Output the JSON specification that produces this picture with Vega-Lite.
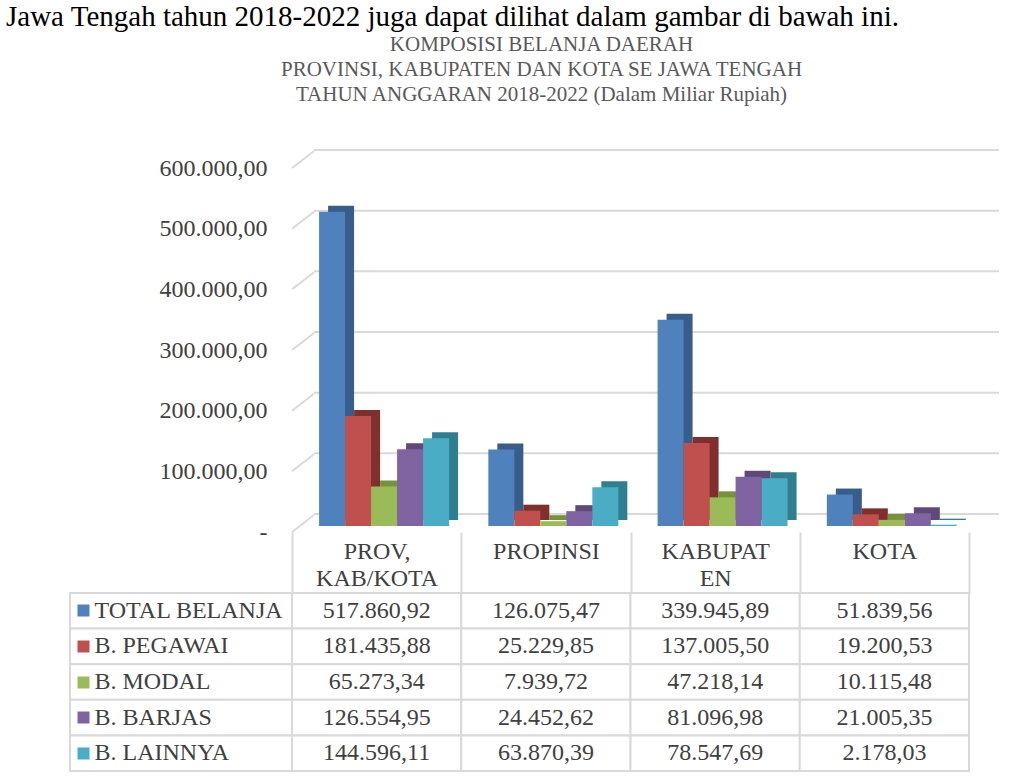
{
  "$schema": "https://vega.github.io/schema/vega-lite/v6.json",
  "padding": {"left": 6, "top": 3, "right": 0, "bottom": 0},
  "background": "white",
  "config": {
    "locale": {"number": {"decimal": ",", "thousands": ".", "grouping": [3], "currency": ["", ""]}},
    "view": {"stroke": null},
    "font": "Liberation Serif",
    "axis": {"labelFont": "Liberation Serif", "titleFont": "Liberation Serif"},
    "title": {"font": "Liberation Serif", "subtitleFont": "Liberation Serif"},
    "text": {"font": "Liberation Serif"}
  },
  "title": {
    "text": "Jawa Tengah tahun 2018-2022 juga dapat dilihat dalam gambar di bawah ini.",
    "anchor": "start", "dx": -63, "fontSize": 29, "fontWeight": "normal", "color": "#000000", "offset": 2
  },
  "datasets": {
    "belanja": [
      {"cat": "PROV, KAB/KOTA", "series": "TOTAL BELANJA", "value": 517860.92},
      {"cat": "PROV, KAB/KOTA", "series": "B. PEGAWAI", "value": 181435.88},
      {"cat": "PROV, KAB/KOTA", "series": "B. MODAL", "value": 65273.34},
      {"cat": "PROV, KAB/KOTA", "series": "B. BARJAS", "value": 126554.95},
      {"cat": "PROV, KAB/KOTA", "series": "B. LAINNYA", "value": 144596.11},
      {"cat": "PROPINSI", "series": "TOTAL BELANJA", "value": 126075.47},
      {"cat": "PROPINSI", "series": "B. PEGAWAI", "value": 25229.85},
      {"cat": "PROPINSI", "series": "B. MODAL", "value": 7939.72},
      {"cat": "PROPINSI", "series": "B. BARJAS", "value": 24452.62},
      {"cat": "PROPINSI", "series": "B. LAINNYA", "value": 63870.39},
      {"cat": "KABUPATEN", "series": "TOTAL BELANJA", "value": 339945.89},
      {"cat": "KABUPATEN", "series": "B. PEGAWAI", "value": 137005.50},
      {"cat": "KABUPATEN", "series": "B. MODAL", "value": 47218.14},
      {"cat": "KABUPATEN", "series": "B. BARJAS", "value": 81096.98},
      {"cat": "KABUPATEN", "series": "B. LAINNYA", "value": 78547.69},
      {"cat": "KOTA", "series": "TOTAL BELANJA", "value": 51839.56},
      {"cat": "KOTA", "series": "B. PEGAWAI", "value": 19200.53},
      {"cat": "KOTA", "series": "B. MODAL", "value": 10115.48},
      {"cat": "KOTA", "series": "B. BARJAS", "value": 21005.35},
      {"cat": "KOTA", "series": "B. LAINNYA", "value": 2178.03}
    ],
    "ticks": [{"v": 0}, {"v": 100000}, {"v": 200000}, {"v": 300000}, {"v": 400000}, {"v": 500000}, {"v": 600000}]
  },
  "columns": 2,
  "bounds": "flush",
  "spacing": {"row": 67, "column": 0},
  "resolve": {"scale": {"x": "independent", "y": "independent"}},
  "concat": [
    {
      "width": 222, "height": 364,
      "data": {"values": [{"a": 1}]},
      "mark": {"type": "point", "opacity": 0},
      "encoding": {}
    },
    {
      "width": 677, "height": 364,
      "title": {
        "text": ["KOMPOSISI BELANJA DAERAH", "PROVINSI, KABUPATEN DAN KOTA SE JAWA TENGAH", "TAHUN ANGGARAN 2018-2022 (Dalam Miliar Rupiah)"],
        "frame": "group", "anchor": "middle", "dx": -89, "fontSize": 21, "fontWeight": "normal",
        "color": "#595959", "lineHeight": 25, "offset": 44
      },
      "resolve": {"scale": {"x": "independent", "color": "independent"}},
      "layer": [
        {
          "data": {"name": "ticks"},
          "mark": {"type": "rule", "color": "#d9d9d9", "strokeWidth": 2, "xOffset": 22, "x2Offset": 30, "yOffset": -12},
          "encoding": {
            "x": {"datum": "PROV, KAB/KOTA", "type": "nominal", "bandPosition": 0, "scale": {"domain": ["PROV, KAB/KOTA", "PROPINSI", "KABUPATEN", "KOTA"], "paddingInner": 0, "paddingOuter": 0, "range": [0, 677]}, "axis": null},
            "x2": {"datum": "KOTA", "bandPosition": 1},
            "y": {
              "field": "v", "type": "quantitative",
              "scale": {"domain": [0, 600000], "nice": false, "zero": true},
              "axis": {
                "values": [0, 100000, 200000, 300000, 400000, 500000, 600000],
                "format": ",.2f",
                "labelExpr": "datum.value == 0 ? '-' : datum.label",
                "labelFontSize": 24, "labelColor": "#404040", "labelPadding": 25, "labelOffset": 6,
                "ticks": false, "domain": false, "grid": false, "title": null
              }
            }
          }
        },
        {
          "data": {"name": "ticks"},
          "mark": {"type": "rule", "color": "#d9d9d9", "strokeWidth": 2, "yOffset": 6, "y2Offset": -11, "x2Offset": 22},
          "encoding": {
            "x": {"datum": "PROV, KAB/KOTA", "type": "nominal", "bandPosition": 0, "scale": {"domain": ["PROV, KAB/KOTA", "PROPINSI", "KABUPATEN", "KOTA"], "paddingInner": 0, "paddingOuter": 0, "range": [0, 677]}, "axis": null},
            "x2": {"datum": "PROV, KAB/KOTA", "bandPosition": 0},
            "y": {"field": "v", "type": "quantitative"},
            "y2": {"field": "v"}
          }
        },
        {
          "data": {"name": "belanja"},
          "mark": {"type": "bar", "yOffset": -6, "y2Offset": -6},
          "encoding": {
            "x": {"field": "cat", "type": "nominal", "scale": {"domain": ["PROV, KAB/KOTA", "PROPINSI", "KABUPATEN", "KOTA"], "paddingInner": 0, "paddingOuter": 0, "range": [9, 686]}, "axis": null},
            "xOffset": {"field": "series", "type": "nominal", "scale": {"domain": ["TOTAL BELANJA", "B. PEGAWAI", "B. MODAL", "B. BARJAS", "B. LAINNYA"], "paddingInner": 0, "paddingOuter": 0.755, "align": 0.69, "range": [0, 169.25]}},
            "y": {"field": "value", "type": "quantitative"},
            "color": {"field": "series", "type": "nominal", "scale": {"domain": ["TOTAL BELANJA", "B. PEGAWAI", "B. MODAL", "B. BARJAS", "B. LAINNYA"], "range": ["#385D8A", "#7F302E", "#76923C", "#5F497A", "#2F7F91"]}, "legend": null}
          }
        },
        {
          "data": {"name": "belanja"},
          "mark": {"type": "bar"},
          "encoding": {
            "x": {"field": "cat", "type": "nominal", "scale": {"domain": ["PROV, KAB/KOTA", "PROPINSI", "KABUPATEN", "KOTA"], "paddingInner": 0, "paddingOuter": 0, "range": [0, 677]}, "axis": null},
            "xOffset": {"field": "series", "type": "nominal"},
            "y": {"field": "value", "type": "quantitative"},
            "color": {"field": "series", "type": "nominal", "scale": {"domain": ["TOTAL BELANJA", "B. PEGAWAI", "B. MODAL", "B. BARJAS", "B. LAINNYA"], "range": ["#4F81BD", "#C0504D", "#9BBB59", "#8064A2", "#4BACC6"]}, "legend": null}
          }
        }
      ]
    },
    {
      "width": 222, "height": 178,
      "data": {"name": "belanja"},
      "transform": [{"filter": "datum.cat == 'KOTA'"}],
      "mark": {"type": "rect", "fill": "white", "stroke": "#d9d9d9", "strokeWidth": 2},
      "encoding": {
        "y": {
          "field": "series", "type": "nominal",
          "scale": {"domain": ["TOTAL BELANJA", "B. PEGAWAI", "B. MODAL", "B. BARJAS", "B. LAINNYA"], "paddingInner": 0, "paddingOuter": 0},
          "axis": {
            "orient": "left", "offset": -19, "domain": false, "grid": false,
            "ticks": true, "tickSize": 12, "tickWidth": 12,
            "tickColor": {"condition": [
              {"test": "datum.value === 'TOTAL BELANJA'", "value": "#4F81BD"},
              {"test": "datum.value === 'B. PEGAWAI'", "value": "#C0504D"},
              {"test": "datum.value === 'B. MODAL'", "value": "#9BBB59"},
              {"test": "datum.value === 'B. BARJAS'", "value": "#8064A2"}
            ], "value": "#4BACC6"},
            "labelAlign": "left", "labelPadding": -17, "labelLimit": 0, "labelFontSize": 24, "labelColor": "#404040", "title": null
          }
        }
      }
    },
    {
      "width": 677, "height": 178,
      "data": {"name": "belanja"},
      "encoding": {
        "x": {
          "field": "cat", "type": "nominal",
          "scale": {"domain": ["PROV, KAB/KOTA", "PROPINSI", "KABUPATEN", "KOTA"], "paddingInner": 0, "paddingOuter": 0},
          "axis": {
            "orient": "top", "tickBand": "extent", "tickSize": 61, "tickWidth": 2, "tickColor": "#d9d9d9",
            "domain": false, "grid": false,
            "labelExpr": "datum.value == 'PROV, KAB/KOTA' ? ['PROV,', 'KAB/KOTA'] : (datum.value == 'KABUPATEN' ? ['KABUPAT', 'EN'] : datum.value)",
            "labelBaseline": "top", "labelPadding": -7, "labelFontSize": 24, "labelColor": "#404040",
            "labelLineHeight": 27, "labelAngle": 0, "title": null
          }
        },
        "y": {
          "field": "series", "type": "nominal",
          "scale": {"domain": ["TOTAL BELANJA", "B. PEGAWAI", "B. MODAL", "B. BARJAS", "B. LAINNYA"], "paddingInner": 0, "paddingOuter": 0},
          "axis": null
        }
      },
      "layer": [
        {"mark": {"type": "rect", "fill": "white", "stroke": "#d9d9d9", "strokeWidth": 2}},
        {
          "mark": {"type": "text", "fontSize": 24, "color": "#404040"},
          "encoding": {"text": {"field": "value", "type": "quantitative", "format": ",.2f"}}
        }
      ]
    }
  ]
}
